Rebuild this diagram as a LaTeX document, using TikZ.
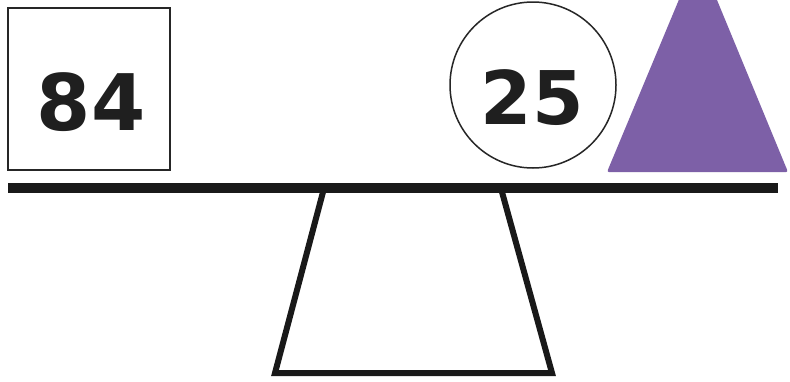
\documentclass[tikz,border=0pt]{standalone}
\usepackage{fontspec}
\newfontfamily\numfont{DejaVu Sans}[BoldFont={DejaVu Sans Bold}]
\definecolor{tripurple}{RGB}{125,96,167}
\tikzset{
  numtext/.style={font=\numfont\bfseries\fontsize{78}{78}\selectfont, text=black!88, inner sep=0pt, anchor=center},
  thinline/.style={draw=black!85, line width=1.8pt},
  standline/.style={draw=black!90, line width=6pt, line join=miter}
}
\begin{document}
\begin{tikzpicture}[x=1pt,y=-1pt]
\useasboundingbox (0,0) rectangle (790,381);
\clip (0,0) rectangle (790,381);
\fill[white] (0,0) rectangle (790,381);
% square weight
\draw[thinline] (8,8) rectangle (170,170);
\node[numtext] (n84) at (91,102) {84};
% circle weight
\draw[thinline, line width=1.5pt] (533,85) circle[radius=83];
\node[numtext, font=\numfont\bfseries\fontsize{74}{74}\selectfont] (n25) at (532,97.5) {25};
% triangle weight
\fill[tripurple, rounded corners=2pt] (698,-46) -- (788,172) -- (607,172) -- cycle;
% beam
\draw[black!90, line width=10pt] (8,188) -- (778,188);
% fulcrum
\coordinate (tl) at (323,192);
\coordinate (tr) at (502,192);
\coordinate (bl) at (275,373);
\coordinate (br) at (552,373);
\draw[standline] (tl) -- (bl) -- (br) -- (tr);
\end{tikzpicture}
\end{document}
